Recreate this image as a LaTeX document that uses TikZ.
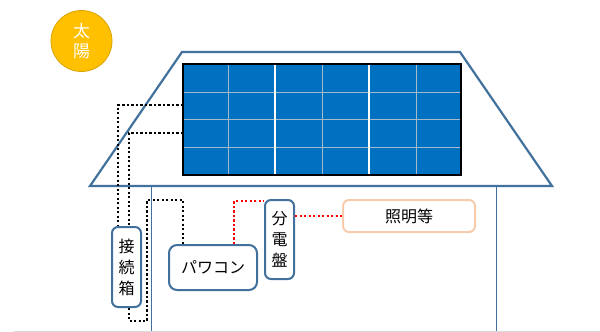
\documentclass[tikz,border=0pt]{standalone}
\usepackage{fontspec}
\setmainfont{Noto Sans CJK JP}
\begin{document}
\begin{tikzpicture}[x=1pt,y=-1pt,
  wire/.style={line width=2.4pt,dash pattern=on 2.3pt off 2.2pt},
  dcwire/.style={wire,black},
  acwire/.style={wire,red},
  housel/.style={draw=houseblue,line width=2.2pt,line join=miter},
  wall/.style={draw=houseblue,line width=1pt},
  devbox/.style={draw=houseblue,line width=2pt,rounded corners=6pt,fill=white,inner sep=0pt,
    font=\fontsize{16}{21}\selectfont,align=center},
  loadbox/.style={draw=loadpeach,line width=2pt,rounded corners=6pt,fill=white,inner sep=0pt,
    font=\fontsize{16}{18}\selectfont},
  gridl/.style={draw=gridgray,line width=1pt},
  splitl/.style={draw=white,line width=2.2pt}]
\definecolor{houseblue}{HTML}{41719C}
\definecolor{loadpeach}{HTML}{F8CBAD}
\definecolor{panelblue}{HTML}{0070C0}
\definecolor{gridgray}{HTML}{A9B9CC}
\definecolor{sunfill}{HTML}{FFC000}
\definecolor{sunedge}{HTML}{D9A400}
\definecolor{floorgray}{HTML}{D9D9D9}
\useasboundingbox (0,0) rectangle (600,332);

% floor line
\draw[floorgray,line width=1pt] (14,331) -- (600,331);

% sun
\node[circle,fill=sunfill,draw=sunedge,line width=0.8pt,minimum size=61pt,inner sep=0pt,
  text=white,font=\fontsize{17}{19.5}\selectfont,align=center] (sun) at (81.5,41) {太\\陽};

% house walls
\draw[wall] (151,186) -- (151,331);
\draw[wall] (496,186) -- (496,331);
% roof
\draw[housel] (90,186) -- (182,52) -- (460,52) -- (552,186) -- cycle;

% solar panel array
\coordinate (pnw) at (183,64);
\coordinate (pse) at (461,175);
\fill[panelblue] (pnw) rectangle (pse);
\foreach \yy in {92,119.5,147.5} \draw[gridl] (183,\yy) -- (461,\yy);
\foreach \xx in {228,322,416} \draw[gridl] (\xx,64) -- (\xx,175);
\foreach \xx in {275,369} \draw[splitl] (\xx,64) -- (\xx,175);
\draw[black,line width=2pt] (pnw) rectangle (pse);
\coordinate (pout1) at (183,105);
\coordinate (pout2) at (183,133);

% equipment
\node[devbox,minimum width=29pt,minimum height=80pt] (jbox) at (126.5,267) {接\\続\\箱};
\node[devbox,minimum width=88pt,minimum height=45pt,rounded corners=8pt] (pcs) at (213,267.5) {パワコン};
\node[devbox,minimum width=29pt,minimum height=79pt] (board) at (279.5,239.5) {分\\電\\盤};
\node[loadbox,minimum width=132pt,minimum height=32pt] (load) at (409,216) {照明等};

% DC wiring: panel to junction box
\draw[dcwire] (pout1) -| ([xshift=-8.5pt]jbox.north);
\draw[dcwire] (pout2) -| ([xshift=2.5pt]jbox.north);
% DC wiring: junction box to power conditioner
\draw[dcwire] ([xshift=2.5pt]jbox.south) -- ++(0,13) -| (147,200) -| ([xshift=-30pt]pcs.north);
% AC wiring
\draw[acwire] ([xshift=21pt]pcs.north) |- (board.west |- 0,201);
\draw[acwire] (board.east |- load.west) -- (load.west);
\end{tikzpicture}
\end{document}
